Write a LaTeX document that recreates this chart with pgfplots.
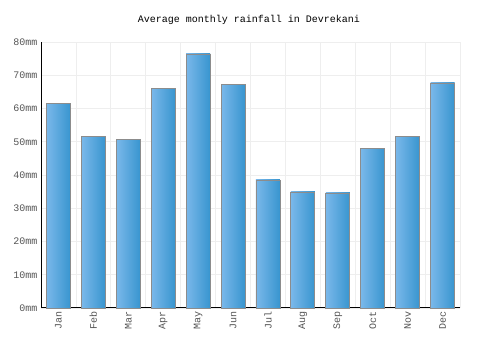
\documentclass[border=0pt]{standalone}
\usepackage{fontspec}
\setmainfont{Liberation Mono}
\setmonofont{Liberation Mono}
\usepackage{pgfplots}
\pgfplotsset{compat=1.18}
\definecolor{barL}{HTML}{7AB8EA}
\definecolor{barR}{HTML}{3895CF}
\definecolor{gridc}{HTML}{EEEEEE}
\definecolor{tickc}{HTML}{555555}
\begin{document}
\begin{tikzpicture}[x=1pt,y=1pt]
\path[use as bounding box, fill=white] (0,0) rectangle (500,350);
\node[font=\fontsize{10}{12}\selectfont, text=black] at (249,330) {Average monthly rainfall in Devrekani};
\begin{axis}[
  at={(41pt,42pt)}, anchor=south west,
  scale only axis, width=419pt, height=266pt,
  xmin=-0.5, xmax=11.5, ymin=0, ymax=80,
  axis lines=left, axis line style={-, black, line width=1pt},
  xtick={0,...,11},
  xticklabels={Jan,Feb,Mar,Apr,May,Jun,Jul,Aug,Sep,Oct,Nov,Dec},
  xticklabel style={rotate=90, anchor=east, text=tickc, font=\fontsize{10}{12}\selectfont},
  minor xtick={0.5,1.5,...,11.5},
  ytick={0,10,...,80},
  yticklabel={\pgfmathprintnumber{\tick}mm},
  yticklabel style={text=tickc, font=\fontsize{10}{12}\selectfont},
  /pgf/number format/assume math mode=true,
  major tick length=0pt, minor tick length=0pt,
  ymajorgrids, xminorgrids,
  grid style={gridc, line width=0.8pt},
  minor grid style={gridc, line width=0.8pt},
  clip=false,
  mybar/.style={ybar, bar width=24pt, bar shift=0pt, draw=gray!90, line width=0.8pt, left color=barL, right color=barR},
]
\addplot[mybar] coordinates {(0,61.4)};
\addplot[mybar] coordinates {(1,51.7)};
\addplot[mybar] coordinates {(2,50.8)};
\addplot[mybar] coordinates {(3,65.9)};
\addplot[mybar] coordinates {(4,76.4)};
\addplot[mybar] coordinates {(5,67.1)};
\addplot[mybar] coordinates {(6,38.5)};
\addplot[mybar] coordinates {(7,34.9)};
\addplot[mybar] coordinates {(8,34.6)};
\addplot[mybar] coordinates {(9,48.1)};
\addplot[mybar] coordinates {(10,51.7)};
\addplot[mybar] coordinates {(11,67.7)};
\end{axis}
\end{tikzpicture}
\end{document}
